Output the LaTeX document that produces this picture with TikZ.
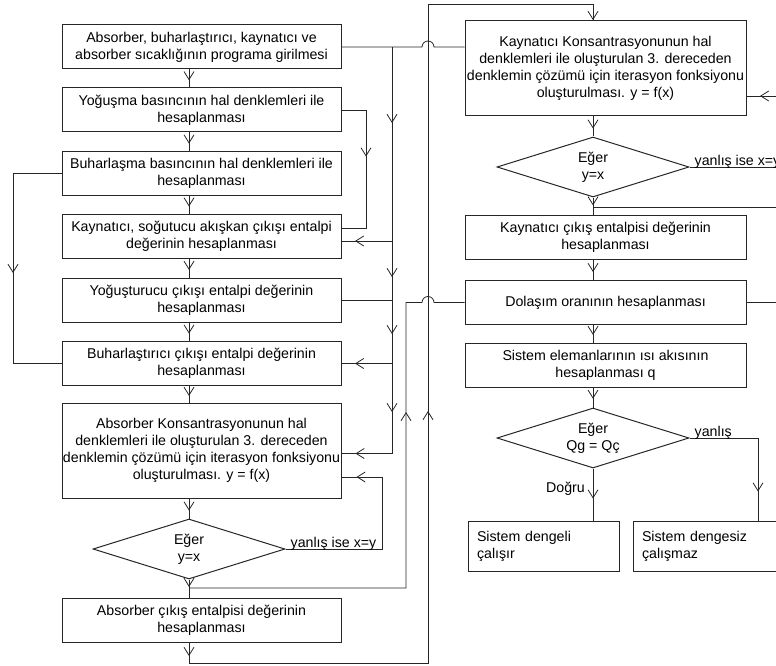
\documentclass[tikz,border=0pt]{standalone}
\usepackage{fontspec}
\setmainfont{Liberation Sans}
\usetikzlibrary{arrows.meta,calc,decorations.markings,shapes.geometric}

\begin{document}
\begin{tikzpicture}[x=1pt,y=-1pt,
  txt/.style={font=\fontsize{14.2}{17}\selectfont},
  box/.style={draw=black!85, line width=1pt, rectangle, inner sep=0pt, minimum width=279pt, minimum height=44pt, align=center, txt},
  endbox/.style={draw=black!85, line width=1pt, rectangle, inner xsep=9pt, inner ysep=0pt, minimum width=151pt, minimum height=50pt, text width=133pt, align=left, txt},
  dia/.style={draw=black!85, line width=1pt, diamond, aspect=3.2, inner sep=0pt, minimum width=192pt, minimum height=60pt, align=center, txt},
  flow/.style={draw=black!85, line width=0.8pt},
  va/.style={postaction={decorate, decoration={markings, mark=at position #1 with {\arrow{Straight Barb[length=8pt,width=10pt]}}}}},
  lbl/.style={inner sep=0pt, txt}]
\useasboundingbox (0,0) rectangle (776,666);
\clip (0,0) rectangle (776,666);

\node[box] (abs) at (201.5,47) {Absorber, buharlaştırıcı, kaynatıcı ve\\absorber sıcaklığının programa girilmesi};
\node[box] (yog) at (201.5,110) {Yoğuşma basıncının hal denklemleri ile\\hesaplanması};
\node[box] (buh) at (201.5,173.5) {Buharlaşma basıncının hal denklemleri ile\\hesaplanması};
\node[box] (kay) at (201.5,236) {Kaynatıcı, soğutucu akışkan çıkışı entalpi\\değerinin hesaplanması};
\node[box] (yogc) at (201.5,300) {Yoğuşturucu çıkışı entalpi değerinin\\hesaplanması};
\node[box] (buhc) at (201.5,363.5) {Buharlaştırıcı çıkışı entalpi değerinin\\hesaplanması};
\node[box, minimum height=95pt] (abk) at (201.5,450.5) {Absorber Konsantrasyonunun hal\\denklemleri ile oluşturulan 3. dereceden\\denklemin çözümü için iterasyon fonksiyonu\\oluşturulması. y = f(x)};
\node[dia] (abe) at (189,549) {Eğer\\y=x};
\node[box] (absc) at (201.5,620.5) {Absorber çıkış entalpisi değerinin\\hesaplanması};

\node[box, minimum width=281pt, minimum height=95pt] (kyk) at (605.5,68.5) {Kaynatıcı Konsantrasyonunun hal\\denklemleri ile oluşturulan 3. dereceden\\denklemin çözümü için iterasyon fonksiyonu\\oluşturulması. y = f(x)};
\node[dia] (kye) at (593,167) {Eğer\\y=x};
\node[box, minimum width=281pt] (kyc) at (605.5,237.5) {Kaynatıcı çıkış entalpisi değerinin\\hesaplanması};
\node[box, minimum width=281pt] (dol) at (605.5,302.5) {Dolaşım oranının hesaplanması};
\node[box, minimum width=281pt] (sis) at (605.5,365.5) {Sistem elemanlarının ısı akısının\\hesaplanması q};
\node[dia] (qe) at (593,438) {Eğer\\Qg = Qç};
\node[endbox] (den) at (543.5,546) {Sistem dengeli\\çalışır};
\node[endbox] (dsz) at (708.5,546) {Sistem dengesiz\\çalışmaz};

\coordinate (bA) at (366,0);
\coordinate (bB) at (392,0);
\coordinate (bC) at (406,0);
\coordinate (bD) at (428,0);
\coordinate (bH) at (382,0);
\coordinate (bL) at (13,0);
\coordinate (bR) at (758,0);
\coordinate (bE) at (790,0);
\coordinate (tp) at (0,4);
\coordinate (bt) at (0,663);
\coordinate (ja) at (189,588);
\coordinate (jk) at (593,207);

\foreach \src/\dst in {abs/yog, yog/buh, buh/kay, kay/yogc, yogc/buhc, buhc/abk, abk/abe}
  \draw[flow, va=0.6] (\src.south -| abe) -- (\dst.north -| abe);
\draw[flow, va=0.4] (abe.south) -- (absc.north -| abe);

\draw[flow, va=71pt] (yog.east) -- (yog.east -| bA) -- ($(kay.east -| bA)+(0,-8)$) -- ($(kay.east)+(0,-8)$);
\draw[flow] (abs.east) -- ($(abs.east -| bD)+(-6,0)$) arc[start angle=180, end angle=0, radius=6pt] -- (abs.east -| kyk.west);
\draw[flow, va=76pt, va=230pt, va=287pt, va=365pt, va=443pt] (abs.east -| bB) -- ($(abk.east -| bB)+(0,3)$) -- ($(abk.east)+(0,3)$);
\draw[flow, va=37pt] ($(kay.east -| bB)+(0,5)$) -- ($(kay.east)+(0,5)$);
\draw[flow] (yogc.east) -- (yogc.east -| bB);
\draw[flow, va=37pt] (buhc.east -| bB) -- (buhc.east);
\draw[flow, va=148pt] (buh.west) -- (buh.west -| bL) -- (buhc.west -| bL) -- (buhc.west);

\draw[flow, va=194pt] (abe.east) -- (abe.east -| bH) -- ($(abk.east -| bH)+(0,26.5)$) -- ($(abk.east)+(0,26.5)$);
\node[lbl, anchor=south west] (l1) at ($(abe.east)+(5,2)$) {yanlış ise x=y};
\draw[flow, va=393pt] (ja) -- (ja -| bC) -- (dol.west -| bC) -- ($(dol.west -| bD)+(-6,0)$) arc[start angle=180, end angle=0, radius=6pt] -- (dol.west);
\draw[flow, va=13pt, va=511pt, va=1099pt] (absc.south -| abe) -- (bt -| abe) -- (bt -| bD) -- (tp -| bD) -- (tp -| kye) -- (kyk.north -| kye);

\draw[flow, va=0.6] (kyk.south -| kye) -- (kye.north);
\draw[flow, va=0.45] (kye.south) -- (kyc.north -| kye);
\draw[flow] (jk) -- (jk -| bE);
\draw[flow] (kye.east) -- (kye.east -| bE);
\node[lbl, anchor=south west] (l2) at ($(kye.east)+(5,2)$) {yanlış ise x=y};
\draw[flow, va=30pt] ($(kyk.east -| bE)+(0,27.5)$) -- ($(kyk.east)+(0,27.5)$);
\draw[flow, va=0.6] (kyc.south -| kye) -- (dol.north -| kye);
\draw[flow] (dol.east) -- (dol.east -| bE);
\draw[flow, va=0.55] (dol.south -| kye) -- (sis.north -| kye);
\draw[flow, va=0.55] (sis.south -| kye) -- (qe.north);
\draw[flow, va=122pt] (qe.east) -- (qe.east -| bR) -- (dsz.north -| bR);
\node[lbl, anchor=south west] (l3) at ($(qe.east)+(5,2)$) {yanlış};
\draw[flow, va=30pt] (qe.south) -- (den.north -| qe);
\node[lbl, anchor=east] (l4) at (585,489) {Doğru};
\end{tikzpicture}
\end{document}
